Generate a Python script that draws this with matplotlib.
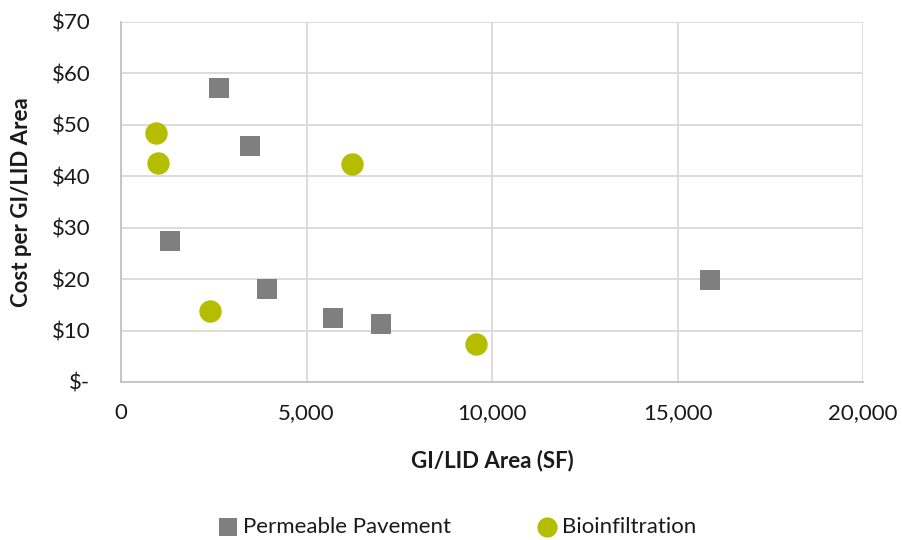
import matplotlib
matplotlib.use("Agg")
import matplotlib.pyplot as plt
from matplotlib.ticker import FuncFormatter

plt.rcParams['font.family'] = ['Lato', 'DejaVu Sans']

pp_area = [2641, 3477, 1321, 3935, 5714, 7008, 15876]
pp_cost = [57.2, 45.9, 27.4, 18.1, 12.4, 11.3, 19.8]
bio_area = [943, 997, 6226, 2399, 9569]
bio_cost = [48.4, 42.6, 42.4, 13.8, 7.4]

x_ticks = [0, 5000, 10000, 15000, 20000]
y_ticks = [0, 10, 20, 30, 40, 50, 60, 70]

fig = plt.figure(figsize=(9.02, 5.40), dpi=100)
ax = fig.add_axes([121/902, 1-382/540, (863-121)/902, (382-22)/540])

ax.scatter(pp_area, pp_cost, marker='s', s=200, color='#7f7f7f', label='Permeable Pavement', zorder=3, linewidths=0)
ax.scatter(bio_area, bio_cost, marker='o', s=260, color='#b5bd00', label='Bioinfiltration', zorder=3, linewidths=0)

ax.set_xlim(0, 20000)
ax.set_ylim(0, 70)
ax.set_xticks(x_ticks)
ax.set_yticks(y_ticks)
ax.xaxis.set_major_formatter(FuncFormatter(lambda v, p: f"{int(v):,}"))
ax.yaxis.set_major_formatter(FuncFormatter(lambda v, p: "$-" if v == 0 else f"${int(v)}"))
ax.grid(True, color='#d9d9d9', linewidth=1.3, zorder=0)
ax.set_axisbelow(True)
for s in ['top', 'right']:
    ax.spines[s].set_visible(False)
for s in ['left', 'bottom']:
    ax.spines[s].set_color('#bfbfbf')
    ax.spines[s].set_linewidth(1.2)
ax.tick_params(axis='both', length=0, labelsize=16, colors='#1a1a1a')
ax.tick_params(axis='x', pad=15)
ax.tick_params(axis='y', pad=22)
ax.set_xlabel('GI/LID Area (SF)', fontsize=16, fontweight='bold', color='#1a1a1a', labelpad=19)
ax.set_ylabel('Cost per GI/LID Area', fontsize=16, fontweight='bold', color='#1a1a1a', labelpad=14)

fig.legend(loc='center', bbox_to_anchor=(0.5, 1-527/540), ncol=2, frameon=False,
           fontsize=16, handletextpad=-0.3, columnspacing=3.3, markerscale=0.9,
           labelcolor='#1a1a1a')

fig.savefig('out.png', dpi=100)
